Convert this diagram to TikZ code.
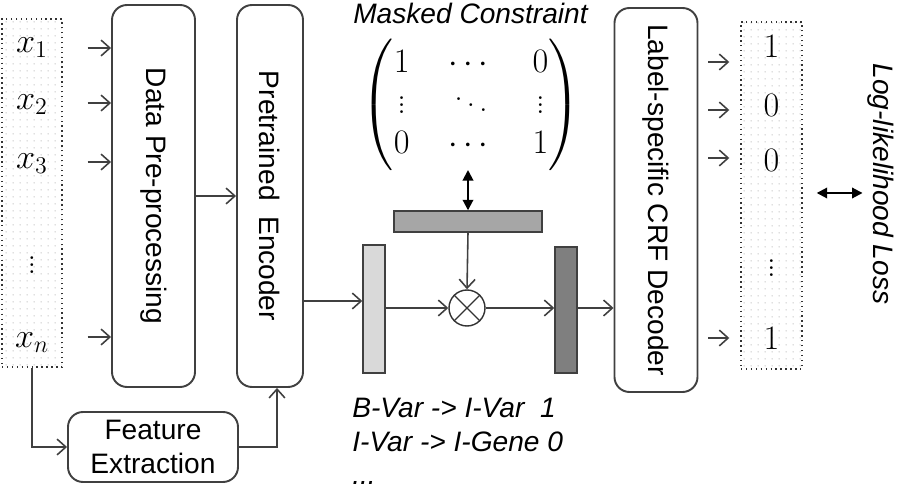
\RequirePackage{fix-cm}
\documentclass[tikz,border=0pt]{standalone}
\usepackage{amsmath}
\usepackage{fontspec}
\setsansfont{Liberation Sans}
\usetikzlibrary{arrows.meta, positioning, patterns.meta}
\definecolor{linegray}{RGB}{64,64,64}
\definecolor{barlight}{RGB}{217,217,217}
\definecolor{barmid}{RGB}{166,166,166}
\definecolor{bardark}{RGB}{127,127,127}
\tikzset{
  block/.style={draw=linegray, line width=1.1pt, rounded corners=0.3cm, inner sep=0pt,
    font=\sffamily\fontsize{16}{19}\selectfont, align=center},
  vecbox/.style={draw=black!80, dotted, line width=0.8pt, inner sep=0pt,
    pattern={Dots[distance=4pt, radius=0.35pt]}, pattern color=gray!70},
  bar/.style={draw=linegray, line width=0.8pt, inner sep=0pt},
  arr/.style={draw=linegray, line width=0.9pt, -{Straight Barb[length=5pt, width=9pt]}},
  dbl/.style={line width=1.1pt, {Triangle[length=6pt, width=6pt]}-{Triangle[length=6pt, width=6pt]}},
  mathlbl/.style={font=\fontsize{19.5}{23}\selectfont},
  note/.style={font=\sffamily\itshape\fontsize{16}{19}\selectfont}
}
\begin{document}
\begin{tikzpicture}
  \useasboundingbox (0,0) rectangle (17.94,-9.82);

  % Input sequence
  \node[vecbox, minimum width=1.2cm, minimum height=6.96cm] (inbox) at (0.64,-3.86) {};
  \foreach \y/\t/\n in {-0.95/x_1/xa, -2.1/x_2/xb, -3.28/x_3/xc, -5.2/\vdots/xd, -6.85/x_n/xn}
    \node[mathlbl] (\n) at (0.64,\y) {$\t$};

  % Main blocks
  \node[block, minimum width=1.66cm, minimum height=7.64cm] (dp) at (3.07,-3.92) {\rotatebox{-90}{Data Pre-processing}};
  \node[block, minimum width=1.32cm, minimum height=7.64cm] (pe) at (5.4,-3.92) {\rotatebox{-90}{Pretrained~ Encoder}};
  \node[block, minimum width=3.4cm, minimum height=1.4cm] (fe) at (3.06,-8.94) {Feature\\Extraction};
  \node[block, minimum width=1.66cm, minimum height=7.68cm] (crf) at (13.12,-4.0) {\rotatebox{-90}{Label-specific CRF Decoder}};

  % Input arrows
  \foreach \y in {-0.96,-2.06,-3.24,-6.74}
    \draw[arr, shorten <=0.5cm] (inbox.east |- 0,\y) -- (dp.west |- 0,\y);
  \draw[arr] (dp.east) -- (pe.west |- dp.east);
  \draw[arr] (inbox.south) |- (fe.west);
  \draw[arr] (fe.east) -| ([xshift=0.14cm]pe.south);

  % Masked constraint
  \node[note] (mctitle) at (9.41,-0.27) {Masked Constraint};
  \node[mathlbl] (mat) at (9.42,-2.1) {$\setlength\arraycolsep{11pt}\begin{pmatrix}1 & \cdots & 0\\ \vdots & \ddots & \vdots\\ 0 & \cdots & 1\end{pmatrix}$};

  % Bars and product
  \node[bar, fill=barlight, minimum width=0.44cm, minimum height=2.56cm] (lbar) at (7.48,-6.18) {};
  \node[bar, fill=barmid, minimum width=2.96cm, minimum height=0.42cm] (mbar) at (9.36,-4.43) {};
  \node[bar, fill=bardark, minimum width=0.44cm, minimum height=2.52cm] (dbar) at (11.32,-6.2) {};
  \node[draw=black!80, line width=0.8pt, circle, minimum size=0.72cm, inner sep=0pt] (ot) at (9.34,-6.16) {};
  \draw[black!80, line width=0.8pt] (ot.45) -- (ot.225) (ot.135) -- (ot.315);

  \coordinate (mtop) at (9.36,-3.4);
  \draw[dbl] (mtop) -- (mbar.north);
  \coordinate (lin) at ([yshift=0.16cm]lbar.west);
  \draw[arr] (pe.east |- lin) -- (lin);
  \draw[arr] (mbar.south) -- (ot.north);
  \draw[arr] (lbar.east |- ot.west) -- (ot.west);
  \draw[arr] (ot.east) -- (dbar.west |- ot.east);
  \draw[arr] (dbar.east |- ot.east) -- (crf.west |- ot.east);

  % Transition rules
  \node[note, anchor=north west, align=left, inner sep=0pt] (rules) at (7.04,-7.96)
    {B-Var -> I-Var~~1\\I-Var -> I-Gene 0\\...};

  % Output labels
  \node[vecbox, minimum width=1.22cm, minimum height=6.94cm] (outbox) at (15.43,-3.91) {};
  \foreach \y/\t/\n in {-0.92/1/ya, -2.1/0/yb, -3.2/0/yc, -5.25/\vdots/yd, -6.76/1/yn}
    \node[mathlbl] (\n) at (15.43,\y) {$\t$};
  \foreach \y in {-1.24,-2.2,-3.16,-6.76}
    \draw[arr, shorten <=0.2cm, shorten >=0.22cm] (crf.east |- 0,\y) -- (outbox.west |- 0,\y);

  % Loss
  \node[note, inner sep=0pt] (loss) at (17.62,-3.68) {\rotatebox{-90}{Log-likelihood Loss}};
  \draw[dbl, shorten <=0.28cm, shorten >=0.1cm] (outbox.east |- 0,-3.86) -- (loss.west |- 0,-3.86);
\end{tikzpicture}
\end{document}
